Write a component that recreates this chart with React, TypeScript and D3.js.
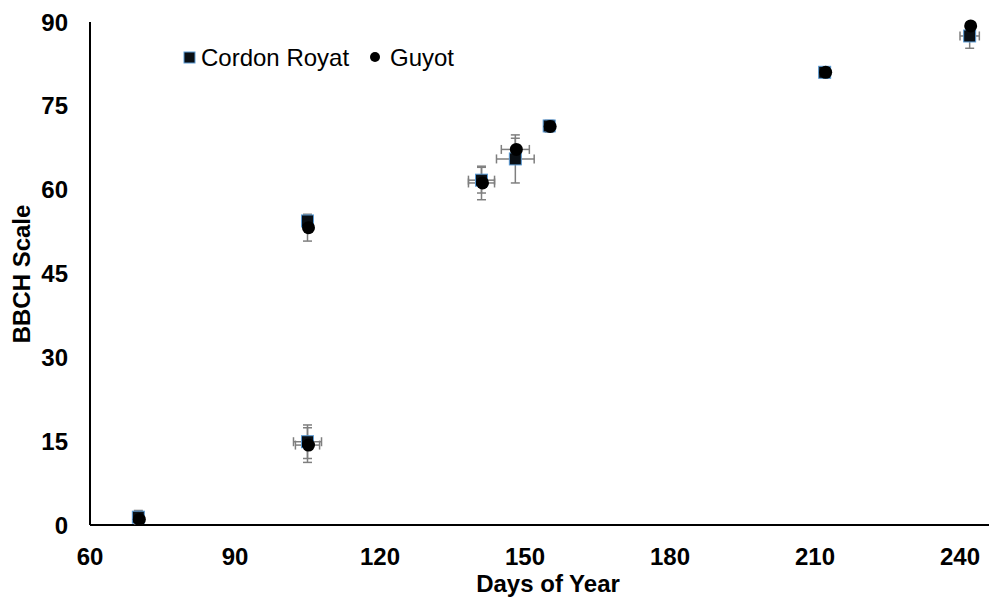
import React from 'react';
import { scaleLinear } from 'd3';

// day of year for each observation
const days = [70, 105, 105, 141, 148, 155, 212, 242];

// Cordon Royat
const cordon = [1.4, 14.9, 54.4, 61.7, 65.5, 71.4, 81.0, 87.5];
const cordonYErr = [1.2, 3.0, 1.0, 2.3, 4.3, 1.0, 0.5, 2.2];
const cordonXErr = [0, 2.9, 0, 2.7, 3.9, 0, 0, 2.0];

// Guyot
const guyot = [1.0, 14.3, 53.2, 61.2, 67.2, 71.3, 81.0, 89.3];
const guyotYErr = [0.5, 3.1, 2.4, 3.0, 2.0, 1.0, 0.5, 0];
const guyotXErr = [0, 2.5, 0, 2.7, 2.9, 0, 0, 0];

const xTicks = [60, 90, 120, 150, 180, 210, 240];
const yTicks = [0, 15, 30, 45, 60, 75, 90];

const FONT = 'Liberation Sans, Arial, sans-serif';
const ERR = '#7f7f7f';

const App = () => {
  const width = 1001;
  const height = 601;
  const x = scaleLinear().domain([60, 246]).range([90, 989]);
  const y = scaleLinear().domain([0, 90]).range([525, 22]);

  const errorBars = (vals: number[], yErr: number[], xErr: number[], key: string) =>
    days.map((d, i) => {
      const cx = x(d);
      const cy = y(vals[i]);
      const out: React.ReactNode[] = [];
      if (yErr[i] > 0) {
        const y0 = y(vals[i] - yErr[i]);
        const y1 = y(vals[i] + yErr[i]);
        out.push(
          <g key={`${key}-ye-${i}`} stroke={ERR} strokeWidth={1.5}>
            <line x1={cx} x2={cx} y1={y0} y2={y1} />
            <line x1={cx - 4.5} x2={cx + 4.5} y1={y0} y2={y0} />
            <line x1={cx - 4.5} x2={cx + 4.5} y1={y1} y2={y1} />
          </g>
        );
      }
      if (xErr[i] > 0) {
        const x0 = x(d - xErr[i]);
        const x1 = x(d + xErr[i]);
        out.push(
          <g key={`${key}-xe-${i}`} stroke={ERR} strokeWidth={1.5}>
            <line x1={x0} x2={x1} y1={cy} y2={cy} />
            <line x1={x0} x2={x0} y1={cy - 4.5} y2={cy + 4.5} />
            <line x1={x1} x2={x1} y1={cy - 4.5} y2={cy + 4.5} />
          </g>
        );
      }
      return out;
    });

  return (
    <svg width={width} height={height} style={{ position: 'absolute', left: 0, top: 0 }}>
      <rect width={width} height={height} fill="#fff" />

      {/* axes */}
      <line x1={x(60)} x2={x(60)} y1={y(90)} y2={y(0)} stroke="#000" strokeWidth={2} />
      <line x1={x(60)} x2={x(246)} y1={y(0)} y2={y(0)} stroke="#000" strokeWidth={2} />

      {yTicks.map((t) => (
        <text key={`yt-${t}`} x={68} y={y(t)} dy="0.36em" textAnchor="end"
          fontFamily={FONT} fontWeight="bold" fontSize={24}>{t}</text>
      ))}
      {xTicks.map((t) => (
        <text key={`xt-${t}`} x={x(t)} y={556} dy="0.36em" textAnchor="middle"
          fontFamily={FONT} fontWeight="bold" fontSize={24}>{t}</text>
      ))}

      <text x={548} y={592} textAnchor="middle" fontFamily={FONT} fontWeight="bold" fontSize={24}>
        Days of Year
      </text>
      <text transform={`translate(30, ${274}) rotate(-90)`} textAnchor="middle"
        fontFamily={FONT} fontWeight="bold" fontSize={24}>
        BBCH Scale
      </text>

      {/* error bars under the markers */}
      {errorBars(cordon, cordonYErr, cordonXErr, 'c')}
      {errorBars(guyot, guyotYErr, guyotXErr, 'g')}

      {/* Cordon Royat */}
      {days.map((d, i) => (
        <rect key={`c-${i}`} x={x(d) - 6} y={y(cordon[i]) - 6} width={12} height={12}
          fill="#0a0f14" stroke="#5b9bd5" strokeWidth={1} />
      ))}

      {/* Guyot */}
      {days.map((d, i) => (
        <circle key={`g-${i}`} cx={x(d) + 1} cy={y(guyot[i])} r={6.5} fill="#000" />
      ))}

      {/* legend */}
      <rect x={184} y={52} width={11} height={11} fill="#0a0f14" stroke="#5b9bd5" strokeWidth={1} />
      <text x={201} y={66} fontFamily={FONT} fontSize={24}>Cordon Royat</text>
      <circle cx={375} cy={57} r={5} fill="#000" />
      <text x={390} y={66} fontFamily={FONT} fontSize={24}>Guyot</text>
    </svg>
  );
};

export default App;
